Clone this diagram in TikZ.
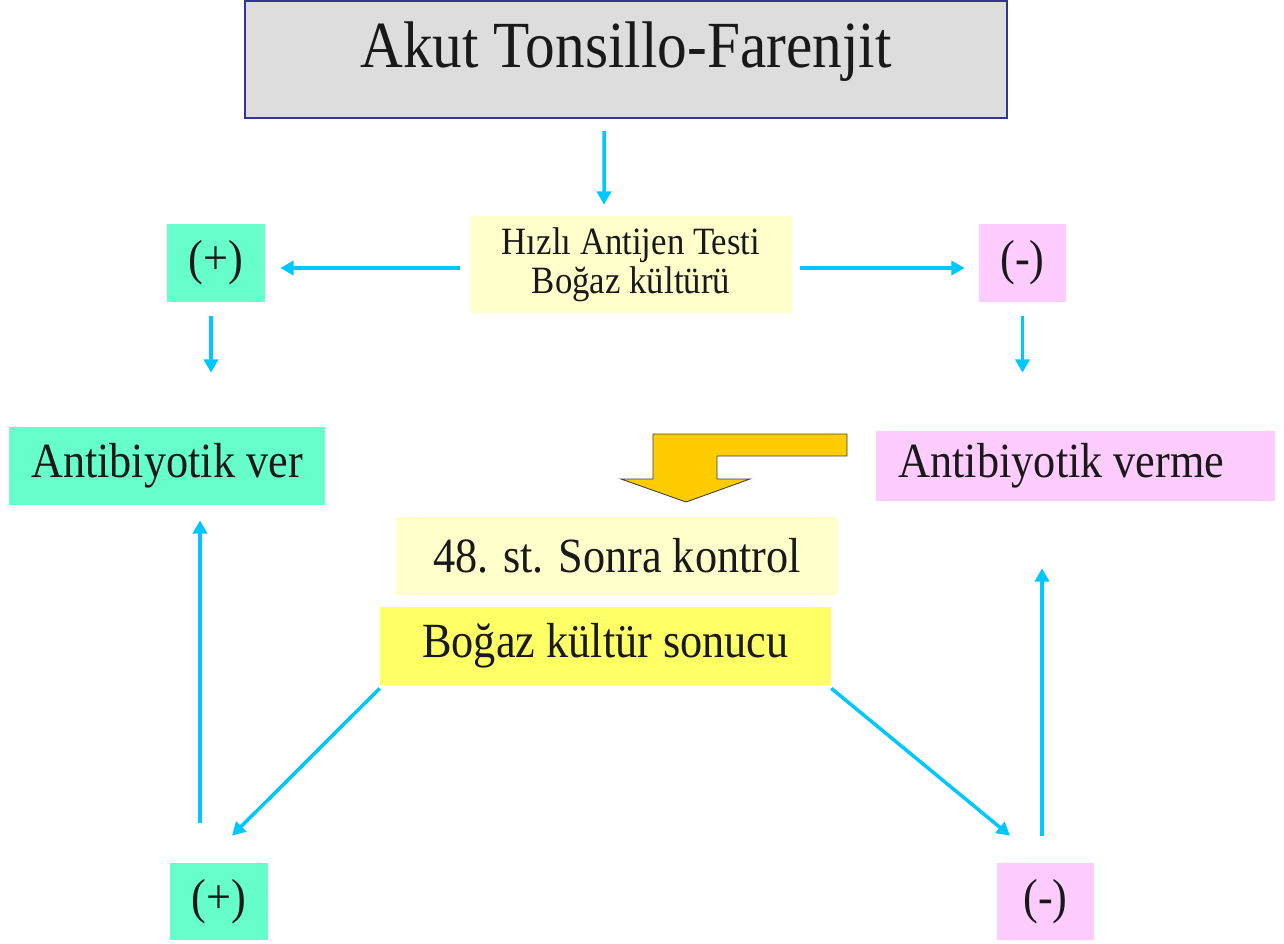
\documentclass[tikz,border=0pt]{standalone}
\usepackage{fontspec}
\setmainfont{Liberation Serif}[FakeStretch=0.9]
\usepackage{tikz}
\usetikzlibrary{arrows.meta, positioning, calc}
\definecolor{titlegray}{HTML}{DDDDDD}
\definecolor{titleline}{HTML}{333399}
\definecolor{paleyellow}{HTML}{FFFFCC}
\definecolor{brightyellow}{HTML}{FFFF66}
\definecolor{posgreen}{HTML}{66FFCC}
\definecolor{negpink}{HTML}{FFCCFF}
\definecolor{flowcyan}{RGB}{0,200,255}
\definecolor{bentgold}{HTML}{FFCC00}
\tikzset{
    box/.style={
        inner sep=0pt,
        font=\fontsize{28}{30}\selectfont,
        text=black!90,
    },
    flow/.style={
        -{Triangle[length=7.5pt,width=8pt]},
        draw=flowcyan,
        line width=2pt,
    },
}

\begin{document}
\begin{tikzpicture}[x=0.02cm, y=-0.02cm]
      \useasboundingbox (0,0) rectangle (1284,943);

      \node[box, fill=titlegray, draw=titleline, line width=1.1pt,
            minimum width=15.24cm, minimum height=2.34cm,
            text height=1.0cm, text depth=0.66cm,
            font=\fontsize{37.5}{40}\selectfont] (title) at (626,59.5) {Akut Tonsillo-Farenjit};

      \node[box, fill=paleyellow, minimum width=6.44cm, minimum height=1.94cm, align=center,
            font=\fontsize{22}{22}\selectfont] (hizli) at (631,264.5) {Hızlı Antijen Testi\\Boğaz kültürü};

      \node[box, fill=posgreen, minimum width=1.96cm, minimum height=1.56cm] (plust) at (216,263) {(+)};

      \node[box, fill=negpink, minimum width=1.74cm, minimum height=1.56cm] (minust) at (1022.5,263) {(-)};

      \node[box, fill=posgreen, minimum width=6.32cm, minimum height=1.56cm] (ver) at (167,466) {Antibiyotik ver};

      \node[box, fill=negpink, minimum width=7.98cm, minimum height=1.40cm] (verme) at (1075.5,466) {Antibiyotik verme\hspace*{0.56cm}};

      \node[box, fill=paleyellow, minimum width=8.84cm, minimum height=1.56cm] (kontrol) at (617,556) {48. st. Sonra kontrol};

      \node[box, fill=brightyellow, minimum width=9.02cm, minimum height=1.56cm] (sonuc) at (605.5,646) {Boğaz kültür sonucu};

      \node[box, fill=posgreen, minimum width=1.96cm, minimum height=1.54cm] (plusb) at (219,901.5) {(+)};

      \node[box, fill=negpink, minimum width=1.94cm, minimum height=1.54cm] (minusb) at (1045.5,901.5) {(-)};

      % bent arrow towards the control box
      \draw[fill=bentgold, draw=black!75, line width=0.5pt]
        (847,434) -- (653,434) -- (653,479) -- (621,479) -- (686,502)
        -- (750,479) -- (717,479) -- (717,456) -- (847,456) -- cycle;

      \draw[flow, shorten <=0.24cm, shorten >=0.22cm] ([xshift=-0.44cm]title.south) -- ([xshift=-0.54cm]hizli.north);
      \draw[flow, shorten <=0.2cm, shorten >=0.3cm] ([yshift=-0.07cm]hizli.west) -- ([yshift=-0.07cm]hizli.west -| plust.east);
      \draw[flow, shorten <=0.16cm, shorten >=0.28cm] ([yshift=-0.07cm]hizli.east) -- ([yshift=-0.07cm]hizli.east -| minust.west);
      \draw[flow, shorten <=0.28cm, shorten >=1.08cm] ([xshift=-0.1cm]plust.south) -- ([xshift=-0.1cm]plust.south |- ver.north);
      \draw[flow, shorten <=0.28cm, shorten >=1.16cm] (minust.south) -- (minust.south |- verme.north);
      \draw[flow] ([yshift=-0.06cm]sonuc.south west) -- ([shift={(0.26cm,0.54cm)}]plusb.north);
      \draw[flow] ([yshift=-0.06cm]sonuc.south east) -- ([shift={(-0.71cm,0.54cm)}]minusb.north);
      \draw[flow, shorten >=0.3cm] ([shift={(-0.38cm,0.8cm)}]plusb.north) -- ([xshift=-0.38cm]plusb.north |- ver.south);
      \draw[flow, shorten >=1.34cm] ([shift={(-0.07cm,0.54cm)}]minusb.north) -- ([xshift=-0.07cm]minusb.north |- verme.south);
\end{tikzpicture}
\end{document}
